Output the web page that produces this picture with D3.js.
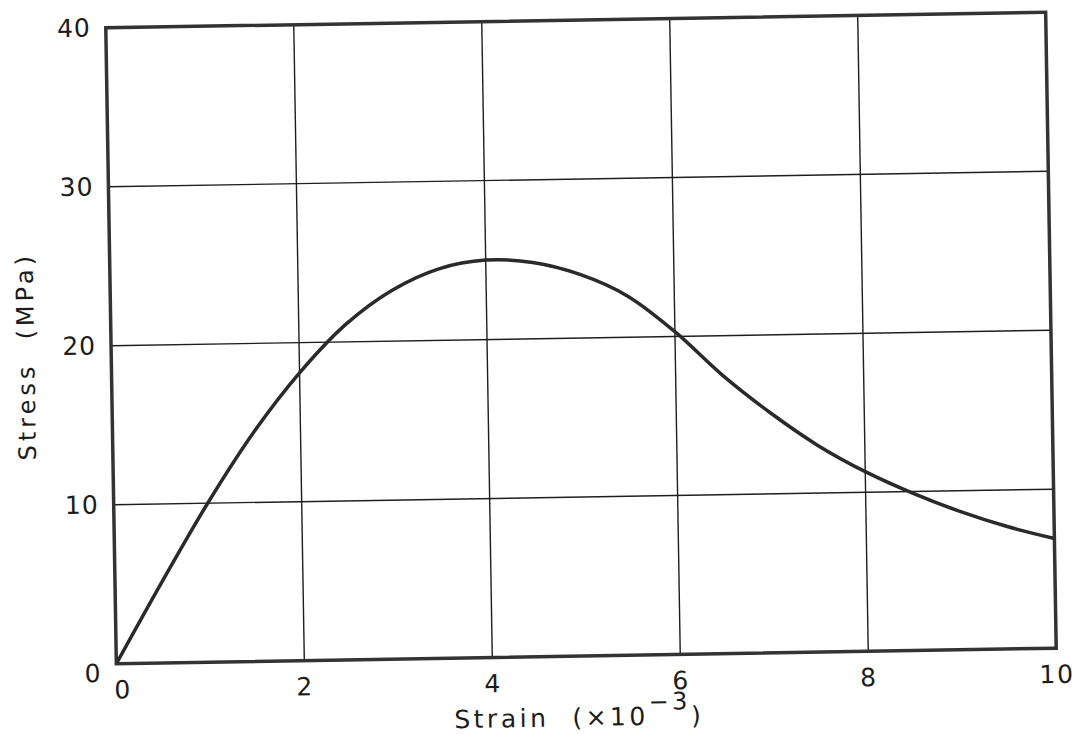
<!DOCTYPE html>
<html>
<head>
<meta charset="utf-8">
<script src="https://cdn.jsdelivr.net/npm/d3@7"></script>
<style>
  body { margin: 0; background: #fff; }
  text { font-family: "DejaVu Sans", sans-serif; fill: #1c1c1c; white-space: pre; }
</style>
</head>
<body>
<svg id="chart" width="1074" height="734"></svg>
<script>
// strain (x10^-3) and stress (MPa)
var strain = [0, 0.5, 1, 1.5, 2, 2.5, 3, 3.5, 4, 4.5, 5, 5.5, 6, 6.5, 7, 7.5, 8, 8.5, 9, 9.5, 10];
var stress = [0, 5.1, 10, 14.4, 18.1, 21.1, 23.2, 24.5, 25.0, 24.8, 24.0, 22.6, 20.3, 17.5, 15.1, 13.0, 11.3, 9.9, 8.7, 7.7, 6.9];

var xTicks = [0, 2, 4, 6, 8, 10];
var yTicks = [0, 10, 20, 30, 40];

var svg = d3.select("#chart");

// plot box (before the small scan tilt is applied)
var margin = { top: 20, left: 111 };
var width = 940, height = 636;

var root = svg.append("g")
    .attr("transform", "rotate(-0.95, 581, 338)");

var g = root.append("g")
    .attr("transform", "translate(" + margin.left + "," + margin.top + ")");

var xScale = d3.scaleLinear().domain([0, 10]).range([0, width]);
var yScale = d3.scaleLinear().domain([0, 40]).range([height, 0]);

// grid
g.selectAll(".vgrid").data(xTicks.slice(1, -1)).enter()
    .append("line")
    .attr("x1", d => xScale(d)).attr("x2", d => xScale(d))
    .attr("y1", 0).attr("y2", height)
    .attr("stroke", "#1e1e1e").attr("stroke-width", 1.4);

g.selectAll(".hgrid").data(yTicks.slice(1, -1)).enter()
    .append("line")
    .attr("y1", d => yScale(d)).attr("y2", d => yScale(d))
    .attr("x1", 0).attr("x2", width)
    .attr("stroke", "#1e1e1e").attr("stroke-width", 1.4);

// curve
var line = d3.line()
    .x(d => xScale(d[0]))
    .y(d => yScale(d[1]))
    .curve(d3.curveCatmullRom.alpha(0.5));

g.append("path")
    .datum(strain.map((s, i) => [s, stress[i]]))
    .attr("d", line)
    .attr("fill", "none")
    .attr("stroke", "#2a2a2a")
    .attr("stroke-width", 3.5);

// frame
g.append("rect")
    .attr("x", 0).attr("y", 0)
    .attr("width", width).attr("height", height)
    .attr("fill", "none")
    .attr("stroke", "#333")
    .attr("stroke-width", 3.5);

// axes (labels only, the frame is drawn above)
var xAxis = g.append("g")
    .attr("transform", "translate(0," + height + ")")
    .call(d3.axisBottom(xScale).tickValues(xTicks).tickSize(0).tickPadding(17));
xAxis.select(".domain").remove();
xAxis.selectAll("text")
    .style("font-size", "25px")
    .style("letter-spacing", "2px")
    .attr("fill", "#1c1c1c")
    .attr("dx", d => d === 0 ? 6 : 0);

var yAxis = g.append("g")
    .call(d3.axisLeft(yScale).tickValues(yTicks).tickSize(0).tickPadding(15));
yAxis.select(".domain").remove();
yAxis.selectAll("text")
    .style("font-size", "25px")
    .style("letter-spacing", "1px")
    .attr("fill", "#1c1c1c")
    .attr("dy", d => d === 0 ? "0.7em" : "0.32em");

// axis titles
var xt = g.append("text")
    .attr("x", 337)
    .attr("y", height + 70)
    .style("font-size", "25px")
    .style("letter-spacing", "3.5px");
xt.append("tspan").text("Strain  (×10");
xt.append("tspan").attr("dy", -15).style("font-size", "24px").text("−3");
xt.append("tspan").attr("dy", 15).text(")");

g.append("text")
    .attr("transform", "translate(" + (34 - margin.left) + "," + (347 - margin.top) + ") rotate(-90)")
    .attr("text-anchor", "middle")
    .style("font-size", "24px")
    .style("letter-spacing", "4px")
    .text("Stress  (MPa)");
</script>
</body>
</html>
